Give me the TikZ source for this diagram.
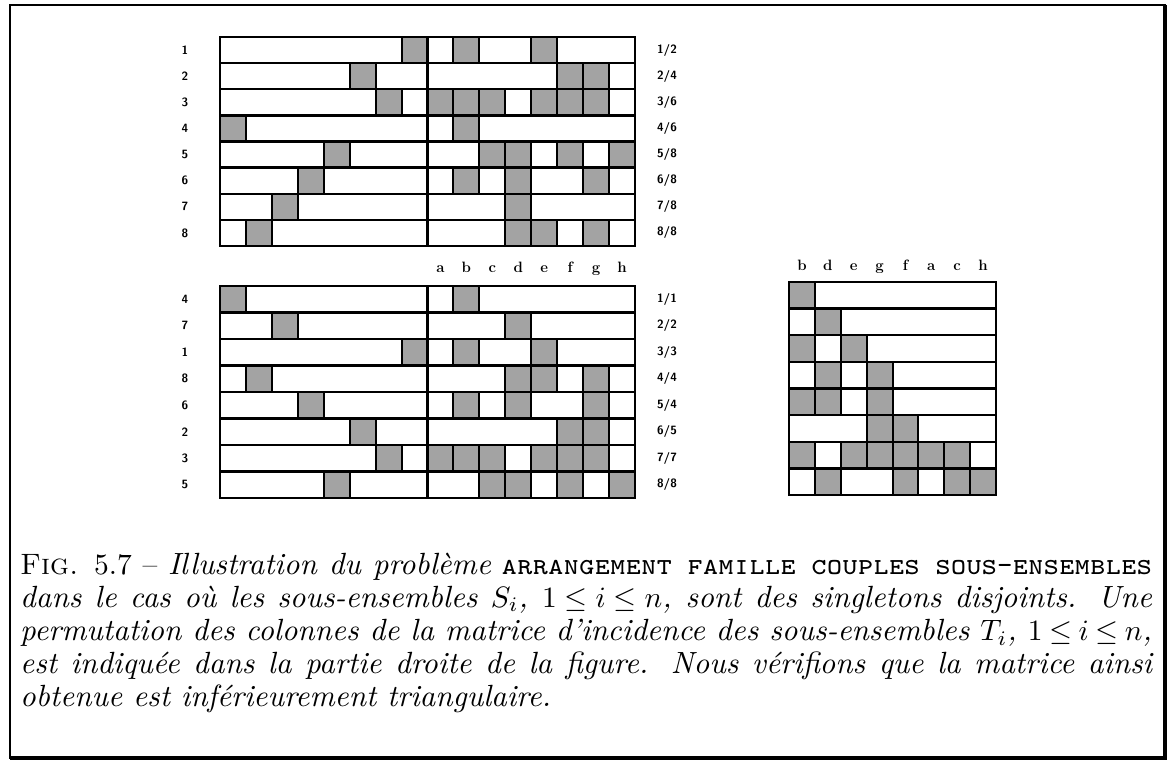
\documentclass[tikz,border=0pt]{standalone}
\newcommand{\ttcapsx}[1]{{\ttfamily\scshape #1}}
\newcommand{\capit}[1]{{\fontsize{10.4}{11.19}\selectfont\itshape #1}}
\newcommand{\capline}[1]{\noindent\makebox[\linewidth][s]{#1}\par}
\tikzset{
  cellgray/.style={fill=black!36, draw=black, line width=2pt},
  gridline/.style={line width=2.3pt, line cap=rect},
  rowlab/.style={font=\fontsize{12}{12}\selectfont\sffamily\bfseries, inner sep=0pt},
  collab/.style={font=\fontsize{15}{15}\selectfont\bfseries, inner sep=0pt, anchor=base},
}
\begin{document}
\begin{tikzpicture}[x=1pt,y=-1pt]
\useasboundingbox (0,0) rectangle (1173,767);
% outer frame
\draw[line width=2pt] (10,5) rectangle (1165,758);
\draw[line width=4pt] (1165,5) -- (1165,758) -- (10,758);

% ---------- top matrix ----------
\foreach \r/\cols in {1/{8,10,13},2/{6,14,15},3/{7,9,10,11,13,14,15},4/{1,10},5/{5,11,12,14,16},6/{4,10,12,15},7/{3,12},8/{2,12,13,15}}{
  \foreach \c in \cols {
    \filldraw[cellgray] ({220+(\c-1)*25.9375},{37+(\r-1)*26.125}) rectangle ++(25.9375,26.125);
  }
}
\foreach \r in {0,...,8}{
  \draw[gridline] (220,{37+\r*26.125}) -- (635,{37+\r*26.125});
}
\draw[gridline] (220,37) -- (220,246) (427.5,37) -- (427.5,246) (635,37) -- (635,246);
\foreach \r in {1,...,8}{
  \node[rowlab] (tl\r) at (185,{37+(\r-0.5)*26.125}) {\r};
}
\foreach \r/\n in {1/2,2/4,3/6,4/6,5/8,6/8,7/8,8/8}{
  \node[rowlab] (tr\r) at (667,{37+(\r-0.5)*26.125}) {\r/\n};
}

% ---------- bottom left matrix ----------
\foreach \r/\cols in {1/{1,10},2/{3,12},3/{8,10,13},4/{2,12,13,15},5/{4,10,12,15},6/{6,14,15},7/{7,9,10,11,13,14,15},8/{5,11,12,14,16}}{
  \foreach \c in \cols {
    \filldraw[cellgray] ({220+(\c-1)*25.9375},{286+(\r-1)*26.5}) rectangle ++(25.9375,26.5);
  }
}
\foreach \r in {0,...,8}{
  \draw[gridline] (220,{286+\r*26.5}) -- (635,{286+\r*26.5});
}
\draw[gridline] (220,286) -- (220,498) (427.5,286) -- (427.5,498) (635,286) -- (635,498);
\foreach \r/\t in {1/4,2/7,3/1,4/8,5/6,6/2,7/3,8/5}{
  \node[rowlab] (bl\r) at (185,{286+(\r-0.5)*26.5}) {\t};
}
\foreach \r/\n in {1/1,2/2,3/3,4/4,5/4,6/5,7/7,8/8}{
  \node[rowlab] (br\r) at (667,{286+(\r-0.5)*26.5}) {\r/\n};
}
\foreach \c/\l in {9/a,10/b,11/c,12/d,13/e,14/f,15/g,16/h}{
  \node[collab] (bc\l) at ({220+(\c-0.5)*25.9375},273) {\l};
}

% ---------- right matrix ----------
\foreach \r/\cols in {1/{1},2/{2},3/{1,3},4/{2,4},5/{1,2,4},6/{4,5},7/{1,3,4,5,6,7},8/{2,5,7,8}}{
  \foreach \c in \cols {
    \filldraw[cellgray] ({789+(\c-1)*25.875},{282+(\r-1)*26.625}) rectangle ++(25.875,26.625);
  }
}
\foreach \r in {0,...,8}{
  \draw[gridline] (789,{282+\r*26.625}) -- (996,{282+\r*26.625});
}
\draw[gridline] (789,282) -- (789,495) (996,282) -- (996,495);
\foreach \c/\l in {1/b,2/d,3/e,4/g,5/f,6/a,7/c,8/h}{
  \node[collab] (rc\l) at ({789+(\c-0.5)*25.875},271) {\l};
}

% ---------- caption ----------
\node[anchor=north west, inner sep=0pt] (cap) at (20,553)
{\scalebox{2.95}{\parbox[t]{383.7pt}{\fontsize{10}{11.19}\selectfont\thickmuskip=4mu plus 2mu
\capline{\textsc{Fig.} 5.7 -- \capit{Illustration du problème} \ttcapsx{arrangement famille couples sous-ensembles}}
\capline{\capit{dans le cas où les sous-ensembles $S_i$, $1 \leq i \leq n$, sont des singletons disjoints. Une}}
\capline{\capit{permutation des colonnes de la matrice d'incidence des sous-ensembles $T_i$, $1 \leq i \leq n$,}}
\capline{\capit{est indiquée dans la partie droite de la figure. Nous vérifions que la matrice ainsi}}
\noindent\capit{obtenue est inférieurement triangulaire.}\par}}};
\end{tikzpicture}
\end{document}
